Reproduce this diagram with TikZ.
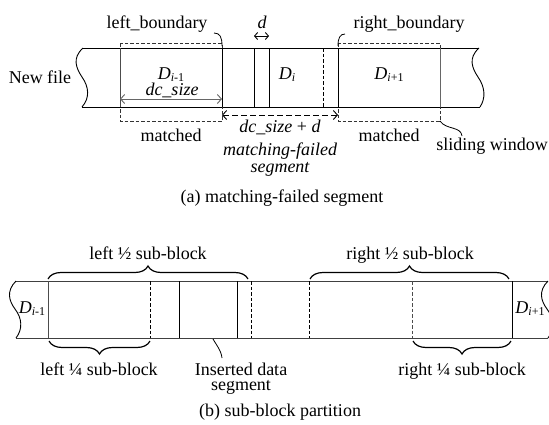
\documentclass[tikz,border=0pt]{standalone}
\usepackage{fontspec}
\setmainfont{Liberation Serif}
\usetikzlibrary{arrows.meta,decorations.pathreplacing}
% lowered small index for block names such as D_{i-1}
\newcommand{\blkidx}[1]{\raisebox{-0.15em}{\fontsize{12}{12}\selectfont #1}}
\begin{document}
\begin{tikzpicture}[x=1pt,y=-1pt,
  lbl/.style={font=\fontsize{18}{17}\selectfont, inner sep=0pt, anchor=base},
  strip/.style={line width=0.9pt},
  sep/.style={line width=0.9pt},
  dsep/.style={line width=0.9pt, dash pattern=on 3.5pt off 2pt},
  dbox/.style={line width=0.9pt, dash pattern=on 3.5pt off 2pt, black!80},
  dim/.style={line width=0.9pt, {Straight Barb[length=4pt,width=9pt]}-{Straight Barb[length=4pt,width=9pt]}},
  hook/.style={line width=0.8pt},
  cbrace/.style={line width=1.2pt, decorate, decoration={brace, amplitude=13pt}},
]
\useasboundingbox (0,0) rectangle (549,424);

% ---------- (a) matching-failed segment ----------
% file strip with torn ends
\draw[strip] (83,48) -- (479,48);
\draw[strip] (82,107) -- (480,107);
\draw[strip] (83,48) .. controls (72,58) and (76,68) .. (82,77) .. controls (89,87) and (90,98) .. (82,107);
\draw[strip] (479,48) .. controls (468,58) and (472,68) .. (478,77) .. controls (485,87) and (486,98) .. (480,107);

% matched windows
\draw[dbox] (120,43) rectangle (222,121);
\draw[dbox] (338,43) rectangle (440,121);

% block boundaries
\coordinate (aL) at (120,48);  \coordinate (aLb) at (120,107);
\coordinate (aM) at (222,48);  \coordinate (aMb) at (222,107);
\coordinate (aP) at (254,48);  \coordinate (aPb) at (254,107);
\coordinate (aQ) at (269,48);  \coordinate (aQb) at (269,107);
\coordinate (aS) at (323,48);  \coordinate (aSb) at (323,107);
\coordinate (aN) at (338,48);  \coordinate (aNb) at (338,107);
\coordinate (aR) at (440,48);  \coordinate (aRb) at (440,107);
\draw[sep, black!70] (aL) -- (aLb);
\draw[sep] (aM) -- (aMb);
\draw[sep] (aP) -- (aPb);
\draw[sep] (aQ) -- (aQb);
\draw[dsep] (aS) -- (aSb);
\draw[sep] (aN) -- (aNb);
\draw[sep, black!60] (aR) -- (aRb);

% boundary hooks
\coordinate (hL) at (214,33);
\coordinate (hR) at (345,34);
\draw[hook] (222,46) .. controls (222,37) and (220,33) .. (hL);
\draw[hook] (338,46) .. controls (338,38) and (340,34) .. (hR);

% dimension arrows
\coordinate (dcA) at (120,99);  \coordinate (dcB) at (222,99);
\draw[dim, black!60] (dcA) -- (dcB);
\coordinate (dA) at (254,36);  \coordinate (dB) at (269,36);
\draw[dim, {Straight Barb[length=3pt,width=7pt]}-{Straight Barb[length=3pt,width=7pt]}] (dA) -- (dB);
\coordinate (mfA) at (222,115);  \coordinate (mfB) at (338,115);
\draw[dim, dash pattern=on 6pt off 3pt] (mfA) -- (mfB);

% sliding window pointer
\coordinate (swA) at (440,121);  \coordinate (swB) at (462,136);
\draw[hook] (swA) .. controls (446,130) and (461,126) .. (swB);

% labels
\node[lbl] (newfile) at (40,83) {New file};
\node[lbl] (lbnd) at (157,28) {left\_boundary};
\node[lbl] (rbnd) at (409,28) {right\_boundary};
\node[lbl] (dlab) at (262,28) {\itshape d};
\node[lbl] (Dm) at (171,79) {\itshape D\blkidx{\itshape i\upshape -1}};
\node[lbl] (Di) at (287,79) {\itshape D\blkidx{\itshape i}};
\node[lbl] (Dp) at (389,79) {\itshape D\blkidx{\itshape i\upshape +1}};
\node[lbl] (dcs) at (172,95) {\itshape dc\_size};
\node[lbl] (matchL) at (171,141) {matched};
\node[lbl] (matchR) at (389,141) {matched};
\node[lbl] (dcsd) at (280,132) {\itshape dc\_size \upshape + \itshape d};
\node[lbl, align=center] (mfs) at (280,172) {\itshape matching-failed\\\itshape segment};
\node[lbl] (sw) at (492,150) {sliding window};
\node[lbl] (capa) at (282,202) {(a) matching-failed segment};

% ---------- (b) sub-block partition ----------
\draw[strip, black!75] (16,281) -- (548,281);
\draw[strip, black!75] (16,338) -- (548,338);
\draw[strip] (16,281) .. controls (6,291) and (9,301) .. (15,309) .. controls (22,318) and (23,329) .. (16,338);
\draw[strip] (548,281) .. controls (538,291) and (541,301) .. (547,309) .. controls (554,318) and (555,329) .. (548,338);

\coordinate (b1) at (48,281);  \coordinate (b1b) at (48,338);
\coordinate (b2) at (150,281); \coordinate (b2b) at (150,338);
\coordinate (b3) at (179,281); \coordinate (b3b) at (179,338);
\coordinate (b4) at (237,281); \coordinate (b4b) at (237,338);
\coordinate (b5) at (251,281); \coordinate (b5b) at (251,338);
\coordinate (b6) at (309,281); \coordinate (b6b) at (309,338);
\coordinate (b7) at (412,281); \coordinate (b7b) at (412,338);
\coordinate (b8) at (512,281); \coordinate (b8b) at (512,338);
\draw[sep, black!70] (b1) -- (b1b);
\draw[dsep] (b2) -- (b2b);
\draw[sep] (b3) -- (b3b);
\draw[sep] (b4) -- (b4b);
\draw[dsep] (b5) -- (b5b);
\draw[dsep] (b6) -- (b6b);
\draw[dsep, black!70] (b7) -- (b7b);
\draw[sep] (b8) -- (b8b);

% sub-block braces
\draw[cbrace] (48,279) -- (248,279);
\draw[cbrace] (310,279) -- (509,279);
\draw[cbrace] (150,341) -- (49,341);
\draw[cbrace] (511,341) -- (413,341);

% inserted segment pointer
\coordinate (insA) at (213,339);  \coordinate (insB) at (222,358);
\draw[hook] (insA) .. controls (217,346) and (221,350) .. (insB);

\node[lbl] (lhalf) at (148,259) {left ½ sub-block};
\node[lbl] (rhalf) at (410,259) {right ½ sub-block};
\node[lbl] (lquart) at (99,375) {left ¼ sub-block};
\node[lbl] (rquart) at (462,375) {right ¼ sub-block};
\node[lbl, align=center, font=\fontsize{18}{15}\selectfont] (ins) at (241,390) {Inserted data\\segment};
\node[lbl] (Dbm) at (32,313) {\itshape D\blkidx{\itshape i\upshape -1}};
\node[lbl] (Dbp) at (530,313) {\itshape D\blkidx{\itshape i\upshape +1}};
\node[lbl] (capb) at (280,416) {(b) sub-block partition};
\end{tikzpicture}
\end{document}
